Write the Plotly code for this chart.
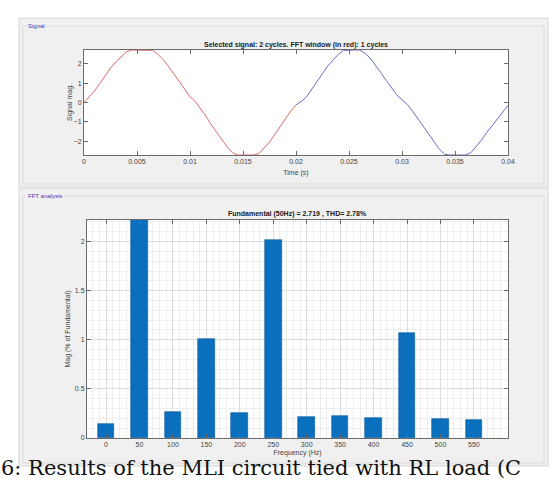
import plotly.graph_objects as go

W, H = 557, 481

# ---------------- data ----------------
# Signal (first cycle = FFT window, red)
t_red = [i * 0.0005 for i in range(41)]
sig_red = [0.00, 0.30, 0.60, 1.00, 1.40, 1.78, 2.10, 2.35, 2.62, 2.72,
           2.72, 2.72, 2.72, 2.70, 2.48, 2.20, 1.85, 1.45, 1.05, 0.65,
           0.30, 0.05, -0.30, -0.70, -1.15, -1.55, -1.95, -2.30, -2.60, -2.72,
           -2.72, -2.72, -2.72, -2.65, -2.35, -2.05, -1.65, -1.25, -0.85, -0.45,
           -0.12]
# second cycle (blue)
t_blue = [0.02 + i * 0.0005 for i in range(41)]
sig_blue = [-0.12, 0.05, 0.30, 0.70, 1.10, 1.50, 1.90, 2.20, 2.50, 2.70,
            2.72, 2.72, 2.72, 2.55, 2.30, 1.95, 1.55, 1.15, 0.75, 0.40,
            0.15, -0.10, -0.45, -0.85, -1.25, -1.65, -2.05, -2.40, -2.68, -2.72,
            -2.72, -2.72, -2.72, -2.60, -2.30, -1.95, -1.55, -1.20, -0.85, -0.50,
            -0.15]

freqs = [0, 50, 100, 150, 200, 250, 300, 350, 400, 450, 500, 550]
mags = [0.14, 100.0, 0.265, 1.01, 0.25, 2.02, 0.215, 0.225, 0.205, 1.07, 0.19, 0.18]

sig_ticks_x = [0, 0.005, 0.01, 0.015, 0.02, 0.025, 0.03, 0.035, 0.04]
sig_tick_text = ["0", "0.005", "0.01", "0.015", "0.02", "0.025", "0.03", "0.035", "0.04"]
sig_ticks_y = [-2, -1, 0, 1, 2]
fft_ticks_y = [0, 0.5, 1, 1.5, 2]
fft_tick_text = ["0", "0.5", "1", "1.5", "2"]

title1 = "Selected signal: 2 cycles. FFT window (in red): 1 cycles"
title2 = "Fundamental (50Hz) = 2.719 , THD= 2.78%"
caption = "6: Results of the MLI circuit tied with RL load (C"

# ---------------- layout helpers ----------------
def px(x):
    return x / W

def py(y):
    return 1 - y / H

FONT = "Liberation Sans, Arial, sans-serif"
AX = "#6a6a6a"
TXT = "#454545"

fig = go.Figure()

fig.add_trace(go.Scatter(x=t_red, y=sig_red, mode="lines",
                         line=dict(color="#e06a6a", width=1), xaxis="x", yaxis="y",
                         showlegend=False, hoverinfo="skip"))
fig.add_trace(go.Scatter(x=t_blue, y=sig_blue, mode="lines",
                         line=dict(color="#6a6ad0", width=1), xaxis="x", yaxis="y",
                         showlegend=False, hoverinfo="skip"))
fig.add_trace(go.Bar(x=freqs, y=mags, width=25, xaxis="x2", yaxis="y2",
                     marker=dict(color="#0a6fbd", line=dict(color="#0a5a9a", width=0.6)),
                     showlegend=False, hoverinfo="skip"))

common = dict(showline=True, linecolor=AX, linewidth=1, mirror="ticks",
              ticks="inside", ticklen=4, tickcolor=AX, tickwidth=1,
              zeroline=False, automargin=False,
              tickfont=dict(family=FONT, size=7, color=TXT))

shapes = []
# gray panels
shapes.append(dict(type="rect", xref="paper", yref="paper", layer="below",
                   x0=px(19), x1=px(548), y0=py(187), y1=py(18),
                   fillcolor="#f0f0f0", line=dict(color="#d6d6d6", width=1)))
shapes.append(dict(type="rect", xref="paper", yref="paper", layer="below",
                   x0=px(19), x1=px(548), y0=py(466), y1=py(188),
                   fillcolor="#f0f0f0", line=dict(color="#d6d6d6", width=1)))
# titled frames
shapes.append(dict(type="rect", xref="paper", yref="paper", layer="below",
                   x0=px(23), x1=px(544), y0=py(184), y1=py(26),
                   fillcolor="rgba(0,0,0,0)", line=dict(color="#dcdcdc", width=1)))
shapes.append(dict(type="rect", xref="paper", yref="paper", layer="below",
                   x0=px(23), x1=px(544), y0=py(463), y1=py(196),
                   fillcolor="rgba(0,0,0,0)", line=dict(color="#dcdcdc", width=1)))
# white plot areas
for xa, ya in (("x", "y"), ("x2", "y2")):
    shapes.append(dict(type="rect", xref=xa + " domain", yref=ya + " domain", layer="below",
                       x0=0, x1=1, y0=0, y1=1, fillcolor="white", line=dict(width=0)))

annotations = [
    dict(text="Signal", xref="paper", yref="paper", x=px(26), y=py(26), xanchor="left",
         yanchor="middle", showarrow=False, bgcolor="#f0f0f0",
         font=dict(family=FONT, size=6, color="#3a3ab8")),
    dict(text="FFT analysis", xref="paper", yref="paper", x=px(26), y=py(196), xanchor="left",
         yanchor="middle", showarrow=False, bgcolor="#f0f0f0",
         font=dict(family=FONT, size=6, color="#3a3ab8")),
    dict(text="<b>" + title1 + "</b>", xref="paper", yref="paper", x=px(296), y=py(45),
         xanchor="center", yanchor="middle", showarrow=False,
         font=dict(family=FONT, size=7, color="#1a1a1a")),
    dict(text="<b>" + title2 + "</b>", xref="paper", yref="paper", x=px(297), y=py(214),
         xanchor="center", yanchor="middle", showarrow=False,
         font=dict(family=FONT, size=7, color="#1a1a1a")),
    dict(text=caption, xref="paper", yref="paper", x=px(0), y=py(481),
         xanchor="left", yanchor="bottom", showarrow=False, borderpad=0,
         font=dict(family="DejaVu Serif, Liberation Serif, serif", size=21, color="#111111")),
]

fig.update_layout(
    width=W, height=H,
    margin=dict(l=0, r=0, t=0, b=0),
    paper_bgcolor="white", plot_bgcolor="white",
    font=dict(family=FONT, size=7, color=TXT),
    xaxis=dict(domain=[px(84), px(508)], range=[0, 0.04], tickvals=sig_ticks_x,
               ticktext=sig_tick_text,
               title=dict(text="Time (s)", standoff=5, font=dict(family=FONT, size=7, color=TXT)),
               showgrid=False, anchor="y", **common),
    yaxis=dict(domain=[py(155), py(50)], range=[-2.72, 2.72], tickvals=sig_ticks_y,
               title=dict(text="Signal mag.", standoff=0, font=dict(family=FONT, size=7, color=TXT)),
               showgrid=False, anchor="x", **common),
    xaxis2=dict(domain=[px(87), px(508)], range=[-28.5, 601], tickvals=freqs,
                title=dict(text="Frequency (Hz)", standoff=2, font=dict(family=FONT, size=7, color=TXT)),
                showgrid=True, gridcolor="#dcdcdc", gridwidth=1,
                minor=dict(dtick=10, tick0=0, showgrid=True, gridcolor="#eeeeee", ticks=""),
                anchor="y2", **common),
    yaxis2=dict(domain=[py(438), py(220)], range=[0, 2.22], tickvals=fft_ticks_y,
                ticktext=fft_tick_text,
                title=dict(text="Mag (% of Fundamental)", standoff=3, font=dict(family=FONT, size=7, color=TXT)),
                showgrid=True, gridcolor="#dcdcdc", gridwidth=1,
                minor=dict(dtick=0.1, tick0=0, showgrid=True, gridcolor="#eeeeee", ticks=""),
                anchor="x2", **common),
    shapes=shapes,
    annotations=annotations,
    bargap=0,
)

fig.write_html("out.html", config={"displayModeBar": False},
               post_script="document.body.style.margin='0px';document.body.style.overflow='hidden';")
